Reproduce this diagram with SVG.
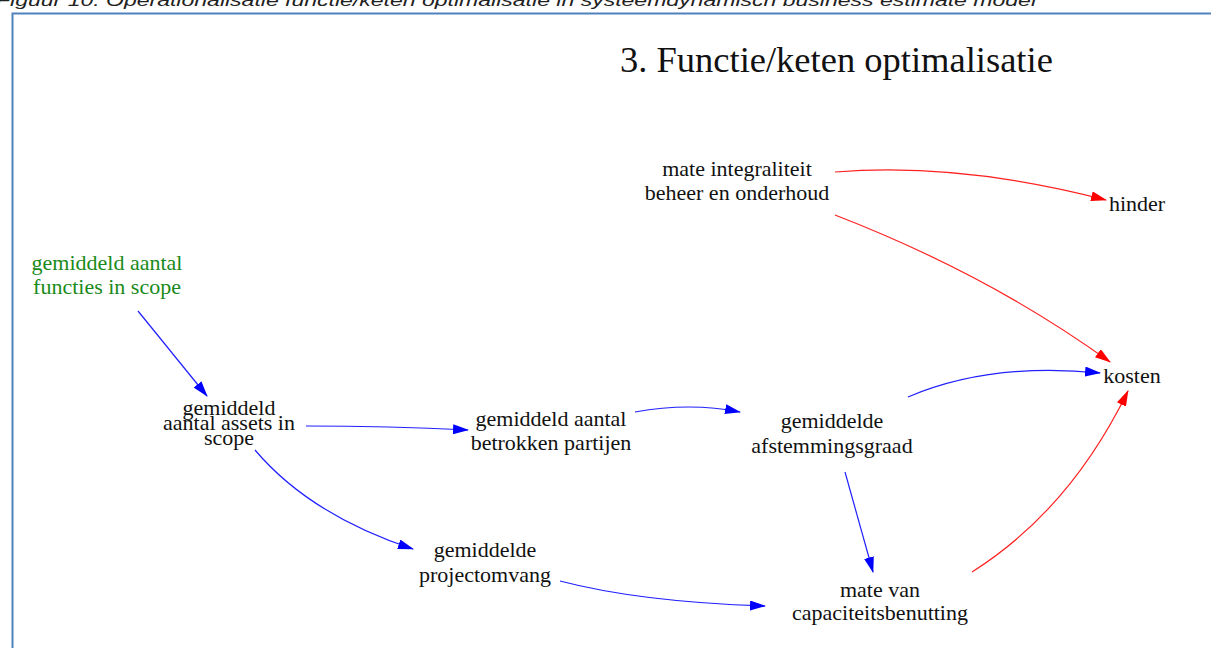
<svg xmlns="http://www.w3.org/2000/svg" width="1211" height="648" viewBox="0 0 1211 648">
<style>
.cap{font-family:"Liberation Sans",Arial,sans-serif;font-style:italic;font-size:16px;fill:#222}
.t{font-family:"Liberation Serif","Times New Roman",serif;font-size:22px;fill:#111;text-anchor:middle}
.g{fill:#1a8a1a}
.title{font-family:"Liberation Serif","Times New Roman",serif;font-size:36.5px;fill:#111}
.b{fill:none;stroke:#2020ff;stroke-width:1.2}
.r{fill:none;stroke:#ff2020;stroke-width:1.2}
</style>
<defs>
<marker id="ab" viewBox="0 0 16 10" refX="15" refY="5" markerWidth="16" markerHeight="10" markerUnits="userSpaceOnUse" orient="auto"><path d="M0,0 L16,5 L0,10 z" fill="#0000ff"/></marker>
<marker id="ar" viewBox="0 0 16 10" refX="15" refY="5" markerWidth="16" markerHeight="10" markerUnits="userSpaceOnUse" orient="auto"><path d="M0,0 L16,5 L0,10 z" fill="#ff0000"/></marker>
</defs>
<rect width="1211" height="648" fill="#fff"/>
<text class="cap" x="-4" y="6" textLength="1040" lengthAdjust="spacingAndGlyphs">Figuur 10: Operationalisatie functie/keten optimalisatie in systeemdynamisch business estimate model</text>
<path d="M12.5,648 V13.5 H1211" fill="none" stroke="#4f81bd" stroke-width="2"/>
<text class="title" x="620" y="72">3. Functie/keten optimalisatie</text>
<g id="connectors">
<path class="b" d="M138,311 L207,396" marker-end="url(#ab)"/>
<path class="b" d="M306,426 Q390,426 468,430" marker-end="url(#ab)"/>
<path class="b" d="M635,412 Q690,402 740,412" marker-end="url(#ab)"/>
<path class="b" d="M908,397 Q990,362 1100,373" marker-end="url(#ab)"/>
<path class="b" d="M845,472 L873,572" marker-end="url(#ab)"/>
<path class="b" d="M255,450 Q310,515 413,549" marker-end="url(#ab)"/>
<path class="b" d="M560,581 Q640,602 765,606" marker-end="url(#ab)"/>
<path class="r" d="M835,172 Q960,162 1106,200" marker-end="url(#ar)"/>
<path class="r" d="M835,215 Q990,275 1110,362" marker-end="url(#ar)"/>
<path class="r" d="M972,572 Q1070,510 1128,391" marker-end="url(#ar)"/>
</g>
<g id="n_functies"><text class="t g" x="107" y="270">gemiddeld aantal</text><text class="t g" x="107" y="294">functies in scope</text></g>
<g id="n_assets"><text class="t" x="229" y="415">gemiddeld</text><text class="t" x="229" y="430">aantal assets in</text><text class="t" x="229" y="445">scope</text></g>
<g id="n_partijen"><text class="t" x="551" y="426">gemiddeld aantal</text><text class="t" x="551" y="450">betrokken partijen</text></g>
<g id="n_afstemming"><text class="t" x="832" y="428">gemiddelde</text><text class="t" x="832" y="453">afstemmingsgraad</text></g>
<g id="n_project"><text class="t" x="485" y="557">gemiddelde</text><text class="t" x="485" y="582">projectomvang</text></g>
<g id="n_capaciteit"><text class="t" x="880" y="597">mate van</text><text class="t" x="880" y="620">capaciteitsbenutting</text></g>
<g id="n_integraliteit"><text class="t" x="737" y="176">mate integraliteit</text><text class="t" x="737" y="200">beheer en onderhoud</text></g>
<g id="n_hinder"><text class="t" x="1137" y="211">hinder</text></g>
<g id="n_kosten"><text class="t" x="1132" y="383">kosten</text></g>
</svg>
